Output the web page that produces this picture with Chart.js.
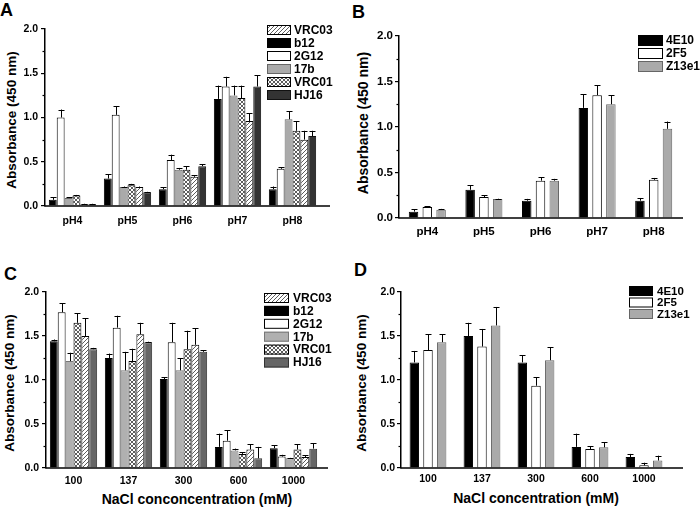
<!DOCTYPE html>
<html><head><meta charset="utf-8">
<script src="https://cdn.jsdelivr.net/npm/chart.js@4.4.1/dist/chart.umd.min.js"></script>
<style>
body{margin:0;background:#fff;width:700px;height:508px;position:relative;overflow:hidden;font-family:"Liberation Sans",Arial,sans-serif;}
canvas{position:absolute;}
.lbl{position:absolute;font-weight:bold;color:#000;white-space:nowrap;line-height:1;}
.yt{position:absolute;width:200px;height:16px;line-height:16px;text-align:center;font-weight:bold;transform:rotate(-90deg);white-space:nowrap;color:#000;}
.xt{position:absolute;width:300px;height:16px;line-height:16px;text-align:center;font-weight:bold;white-space:nowrap;color:#000;}
</style></head><body>
<div class="lbl" style="left:0px;top:1px;font-size:18px">A</div>
<div class="lbl" style="left:352px;top:3px;font-size:18px">B</div>
<div class="lbl" style="left:4px;top:265px;font-size:18px">C</div>
<div class="lbl" style="left:354px;top:261px;font-size:18px">D</div>
<div class="yt" style="left:-88px;top:112px;font-size:13.5px">Absorbance (450 nm)</div>
<div class="yt" style="left:263px;top:115px;font-size:14px">Absorbance (450 nm)</div>
<div class="yt" style="left:-90px;top:375px;font-size:13.5px">Absorbance (450 nm)</div>
<div class="yt" style="left:262px;top:375px;font-size:13.5px">Absorbance (450 nm)</div>
<div class="xt" style="left:47px;top:491px;font-size:14px">NaCl conconcentration (mM)</div>
<div class="xt" style="left:386px;top:490px;font-size:14px">NaCl concentration (mM)</div>
<canvas id="cA" width="350" height="254" style="left:0;top:0"></canvas>
<canvas id="cB" width="350" height="254" style="left:350px;top:0"></canvas>
<canvas id="cC" width="350" height="254" style="left:0;top:254px"></canvas>
<canvas id="cD" width="350" height="254" style="left:350px;top:254px"></canvas>
<script>
// ---------- DATA ----------
const phLabels = ['pH4','pH5','pH6','pH7','pH8'];
const naclLabels = ['100','137','300','600','1000'];
const yTicks = [0, 0.5, 1.0, 1.5, 2.0];

// Panel A (pH) — values and upper error
const A_b12   = [0.07, 0.31, 0.19, 1.21, 0.19];
const A_b12e  = [0.03, 0.05, 0.02, 0.15, 0.03];
const A_2G12  = [1.00, 1.03, 0.52, 1.35, 0.42];
const A_2G12e = [0.09, 0.10, 0.06, 0.11, 0.02];
const A_17b   = [0.09, 0.215, 0.41, 1.25, 0.98];
const A_17be  = [0.01, 0.005, 0.02, 0.11, 0.09];
const A_VRC01 = [0.12, 0.235, 0.41, 1.22, 0.85];
const A_VRC01e= [0.005, 0.015, 0.04, 0.14, 0.11];
const A_VRC03 = [0.02, 0.215, 0.33, 0.96, 0.75];
const A_VRC03e= [0.005, 0.005, 0.02, 0.09, 0.10];
const A_HJ16  = [0.02, 0.155, 0.45, 1.35, 0.79];
const A_HJ16e = [0.005, 0.005, 0.02, 0.13, 0.06];

// Panel B (pH)
const B_4E10  = [0.07, 0.31, 0.19, 1.21, 0.19];
const B_4E10e = [0.025, 0.05, 0.02, 0.15, 0.03];
const B_2F5   = [0.12, 0.23, 0.41, 1.35, 0.42];
const B_2F5e  = [0.01, 0.02, 0.04, 0.11, 0.02];
const B_Z13e1 = [0.09, 0.21, 0.41, 1.25, 0.98];
const B_Z13e1e= [0.01, 0.003, 0.02, 0.10, 0.08];

// Panel C (NaCl)
const C_b12   = [1.44, 1.25, 1.01, 0.24, 0.225];
const C_b12e  = [0.02, 0.05, 0.02, 0.15, 0.035];
const C_2G12  = [1.77, 1.595, 1.43, 0.31, 0.13];
const C_2G12e = [0.10, 0.135, 0.22, 0.12, 0.02];
const C_17b   = [1.215, 1.11, 1.11, 0.20, 0.11];
const C_17be  = [0.095, 0.21, 0.14, 0.02, 0.005];
const C_VRC01 = [1.65, 1.215, 1.35, 0.16, 0.21];
const C_VRC01e= [0.11, 0.14, 0.21, 0.02, 0.06];
const C_VRC03 = [1.50, 1.52, 1.40, 0.21, 0.125];
const C_VRC03e= [0.20, 0.13, 0.19, 0.06, 0.02];
const C_HJ16  = [1.35, 1.43, 1.32, 0.11, 0.22];
const C_HJ16e = [0.015, 0.005, 0.02, 0.13, 0.06];

// Panel D (NaCl)
const D_4E10  = [1.20, 1.50, 1.20, 0.24, 0.125];
const D_4E10e = [0.13, 0.15, 0.08, 0.15, 0.035];
const D_2F5   = [1.34, 1.38, 0.935, 0.215, 0.03];
const D_2F5e  = [0.18, 0.20, 0.095, 0.03, 0.03];
const D_Z13e1 = [1.43, 1.62, 1.225, 0.235, 0.085];
const D_Z13e1e= [0.09, 0.21, 0.145, 0.055, 0.055];

// ---------- patterns ----------
function hatch(){
  const c=document.createElement('canvas'); c.width=4; c.height=4;
  const g=c.getContext('2d'); g.fillStyle='#fff'; g.fillRect(0,0,4,4);
  g.strokeStyle='#333'; g.lineWidth=0.8; g.beginPath();
  g.moveTo(0,4); g.lineTo(4,0); g.moveTo(-1,1); g.lineTo(1,-1); g.moveTo(3,5); g.lineTo(5,3); g.stroke();
  return g.createPattern(c,'repeat');
}
function cross(){
  const c=document.createElement('canvas'); c.width=4; c.height=4;
  const g=c.getContext('2d'); g.fillStyle='#fff'; g.fillRect(0,0,4,4);
  g.strokeStyle='#333'; g.lineWidth=0.8; g.beginPath();
  g.moveTo(0,4); g.lineTo(4,0); g.moveTo(-1,1); g.lineTo(1,-1); g.moveTo(3,5); g.lineTo(5,3);
  g.moveTo(0,0); g.lineTo(4,4); g.moveTo(-1,3); g.lineTo(1,5); g.moveTo(3,-1); g.lineTo(5,1);
  g.stroke();
  return g.createPattern(c,'repeat');
}
const HATCH = hatch(), CROSS = cross();

// ---------- plugin ----------
const extras = {
  id:'extras',
  afterDraw(chart, args, o){
    const ctx=chart.ctx, ca=chart.chartArea, ys=chart.scales.y;
    ctx.save();
    ctx.strokeStyle='#000'; ctx.lineWidth=1.5;
    ctx.beginPath(); ctx.moveTo(ca.left-0.75, ca.bottom); ctx.lineTo(o.axisEnd, ca.bottom); ctx.stroke();
    ctx.lineWidth=1.2;
    [0.25,0.75,1.25,1.75].forEach(v=>{
      const y=Math.round(ys.getPixelForValue(v))+0.5;
      ctx.beginPath(); ctx.moveTo(ca.left-2.5,y); ctx.lineTo(ca.left,y); ctx.stroke();
    });
    ctx.lineWidth=1; ctx.strokeStyle='#000';
    chart.data.datasets.forEach((ds,i)=>{
      const meta=chart.getDatasetMeta(i);
      meta.data.forEach((el,j)=>{
        const x=Math.round(el.x)+0.5, y0=el.y, y1=ys.getPixelForValue(ds.data[j]+ds.err[j]);
        ctx.beginPath(); ctx.moveTo(x,y0); ctx.lineTo(x,y1);
        ctx.moveTo(x-3,Math.round(y1)+0.5); ctx.lineTo(x+3,Math.round(y1)+0.5); ctx.stroke();
      });
    });
    const L=o.legend;
    ctx.font='bold '+L.font+'px "Liberation Sans", Arial, sans-serif';
    ctx.textBaseline='middle'; ctx.textAlign='left';
    L.order.forEach((idx,k)=>{
      const ds=chart.data.datasets[idx];
      const y=L.top+k*L.step;
      ctx.fillStyle=ds.backgroundColor; ctx.fillRect(L.x,y,L.w,L.h);
      ctx.strokeStyle=ds.borderColor; ctx.lineWidth=1; ctx.strokeRect(L.x+0.5,y+0.5,L.w-1,L.h-1);
      ctx.fillStyle='#000'; ctx.fillText(ds.label,L.textX,y+L.h/2+0.5);
    });
    ctx.restore();
  }
};

function isMajor(v){ return Math.abs(v*2-Math.round(v*2))<1e-6; }

function make(id, labels, series, p){
  const H=254, W=350;
  new Chart(document.getElementById(id), {
    type:'bar',
    data:{labels, datasets: series.map(s=>({label:s.name, data:s.data, err:s.err,
      backgroundColor:s.fill, borderColor:s.border, borderWidth:1, borderSkipped:'start',
      categoryPercentage:p.cat, barPercentage:p.bar}))},
    options:{
      responsive:false, animation:false, devicePixelRatio:1,
      layout:{padding:{left:0, right:W-p.area.r, top:p.area.t, bottom:0}},
      plugins:{legend:{display:false}, tooltip:{enabled:false}, extras:{axisEnd:p.axisEnd, legend:p.legend}},
      scales:{
        x:{grid:{display:false, drawTicks:false}, border:{display:false},
           ticks:{color:'#000', font:{family:'"Liberation Sans", Arial, sans-serif', weight:'bold', size:p.tick}, padding:p.xpad, maxRotation:0, autoSkip:false},
           afterFit:s=>{s.height=H-p.area.b;}},
        y:{min:0, max:2,
           ticks:{stepSize:0.25, color:'#000', padding:p.ypad,
             font:{family:'"Liberation Sans", Arial, sans-serif', weight:'bold', size:p.tick},
             callback:v=> isMajor(v)? Number(v).toFixed(1): ''},
           grid:{drawOnChartArea:false, drawTicks:true, tickLength:4, lineWidth:1.2,
             color:c=> (c.tick && isMajor(c.tick.value))? '#000':'rgba(0,0,0,0)'},
           border:{display:true, color:'#000', width:1.5},
           afterFit:s=>{s.width=p.area.l;}}
      }
    },
    plugins:[extras]
  });
}

const sixA = [
  {name:'b12',  data:A_b12,  err:A_b12e,  fill:'#000', border:'#000'},
  {name:'2G12', data:A_2G12, err:A_2G12e, fill:'#fff', border:'#000'},
  {name:'17b',  data:A_17b,  err:A_17be,  fill:'#aaa', border:'#666'},
  {name:'VRC01',data:A_VRC01,err:A_VRC01e,fill:CROSS,  border:'#000'},
  {name:'VRC03',data:A_VRC03,err:A_VRC03e,fill:HATCH,  border:'#000'},
  {name:'HJ16', data:A_HJ16, err:A_HJ16e, fill:'#333', border:'#111'}
];
const sixC = [
  {name:'b12',  data:C_b12,  err:C_b12e,  fill:'#000', border:'#000'},
  {name:'2G12', data:C_2G12, err:C_2G12e, fill:'#fff', border:'#000'},
  {name:'17b',  data:C_17b,  err:C_17be,  fill:'#b0b0b0', border:'#777'},
  {name:'VRC01',data:C_VRC01,err:C_VRC01e,fill:CROSS,  border:'#000'},
  {name:'VRC03',data:C_VRC03,err:C_VRC03e,fill:HATCH,  border:'#000'},
  {name:'HJ16', data:C_HJ16, err:C_HJ16e, fill:'#666', border:'#333'}
];
const threeB = [
  {name:'4E10', data:B_4E10, err:B_4E10e, fill:'#000', border:'#000'},
  {name:'2F5',  data:B_2F5,  err:B_2F5e,  fill:'#fff', border:'#000'},
  {name:'Z13e1',data:B_Z13e1,err:B_Z13e1e,fill:'#aaa', border:'#666'}
];
const threeD = [
  {name:'4E10', data:D_4E10, err:D_4E10e, fill:'#000', border:'#000'},
  {name:'2F5',  data:D_2F5,  err:D_2F5e,  fill:'#fff', border:'#000'},
  {name:'Z13e1',data:D_Z13e1,err:D_Z13e1e,fill:'#aaa', border:'#666'}
];

make('cA', phLabels, sixA, {area:{l:45,r:320,t:29,b:206}, axisEnd:330, cat:0.86, bar:1.0, tick:10.5, xpad:9, ypad:3,
  legend:{order:[4,0,1,2,3,5], x:267, w:24, top:25, h:10, step:13, textX:294, font:12}});
make('cB', phLabels, threeB, {area:{l:49,r:332,t:36,b:218}, axisEnd:333, cat:0.73, bar:0.69, tick:11.5, xpad:7, ypad:2,
  legend:{order:[0,1,2], x:288, w:25, top:35, h:11, step:13, textX:316, font:12}});
make('cC', naclLabels, sixC, {area:{l:46,r:321,t:38,b:214}, axisEnd:328, cat:0.86, bar:1.0, tick:10.5, xpad:7, ypad:3,
  legend:{order:[4,0,1,2,3,5], x:264, w:25, top:39, h:10, step:12.9, textX:293, font:12}});
make('cD', naclLabels, threeD, {area:{l:51,r:321,t:38,b:214}, axisEnd:333, cat:0.76, bar:0.69, tick:10.5, xpad:5, ypad:2,
  legend:{order:[0,1,2], x:279, w:24, top:32, h:10, step:11.5, textX:307, font:11.5}});
</script>
</body></html>
